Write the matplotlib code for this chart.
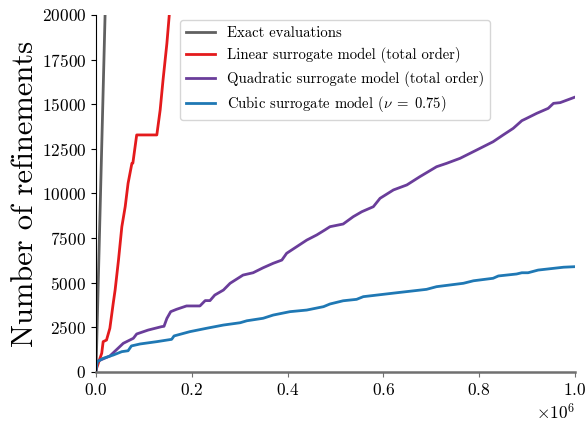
import numpy as np
import matplotlib
matplotlib.use("Agg")
import matplotlib.pyplot as plt

plt.rcParams['font.family'] = 'serif'
plt.rcParams['font.serif'] = ['cmr10']
plt.rcParams['mathtext.fontset'] = 'cm'
plt.rcParams['axes.formatter.use_mathtext'] = True

# evaluations (x) vs number of refinements (y)
exact_x = [0, 19000]
exact_y = [0, 20000]

linear_x = [0, 12000, 15000, 22000, 29000, 36000, 40000, 47000, 54000, 61000,
            67000, 75000, 77000, 85000, 127000, 134000, 140000, 148000, 153000]
linear_y = [110, 1050, 1700, 1790, 2450, 3850, 4600, 6270, 8140, 9260,
            10570, 11690, 11700, 13280, 13280, 14680, 16360, 18400, 20000]

quad_x = [0, 1500, 29000, 57000, 78000, 85000, 109000, 137000, 142000, 148000,
          156000, 168000, 189000, 217000, 228000, 238000, 248000, 266000, 280000,
          307000, 328000, 349000, 370000, 388000, 398000, 419000, 440000, 461000,
          478000, 488500, 516000, 537000, 555000, 579000, 593000, 621000, 649000,
          676000, 711000, 732000, 760000, 795000, 829000, 850000, 871000, 889000,
          899000, 920000, 944000, 955000, 969000, 1000000]
quad_y = [110, 580, 896, 1607, 1888, 2130, 2350, 2540, 2560, 3000,
          3380, 3510, 3700, 3700, 4000, 4000, 4310, 4590, 4970,
          5430, 5560, 5840, 6090, 6270, 6650, 7020, 7390, 7680,
          7960, 8140, 8290, 8700, 8980, 9260, 9730, 10200, 10480,
          10940, 11500, 11690, 11970, 12440, 12900, 13280, 13650, 14080,
          14210, 14490, 14770, 15050, 15090, 15400]

cubic_x = [0, 3000, 15000, 36000, 54000, 67000, 74000, 92000, 127000, 158000,
           163000, 196000, 231000, 266000, 301000, 315000, 349000, 370000, 405000,
           440000, 475000, 488500, 516000, 544000, 558000, 628000, 690000, 711000,
           767000, 788000, 829000, 840000, 878000, 889000, 902000, 923000, 976000,
           1000000]
cubic_y = [110, 580, 765, 950, 1140, 1190, 1460, 1570, 1700, 1830,
           2020, 2260, 2450, 2630, 2760, 2870, 3010, 3190, 3380,
           3470, 3660, 3810, 3990, 4070, 4220, 4440, 4630, 4780,
           4970, 5110, 5250, 5380, 5490, 5560, 5560, 5710, 5870,
           5900]

fig = plt.figure(figsize=(5.87, 4.21), dpi=100)
ax = fig.add_axes([0.1635, 0.1164, 0.8161, 0.848])

ax.plot(exact_x, exact_y, color='#606060', lw=2, label='Exact evaluations')
ax.plot(linear_x, linear_y, color='#e41a1c', lw=2, label='Linear surrogate model (total order)')
ax.plot(quad_x, quad_y, color='#6a3d9a', lw=2, label='Quadratic surrogate model (total order)')
ax.plot(cubic_x, cubic_y, color='#1f78b4', lw=2, label=r'Cubic surrogate model ($\nu\;=\;0.75$)')

ax.set_xlim(0, 1e6)
ax.set_ylim(0, 20000)
ax.set_yticks(np.arange(0, 20001, 2500))
ax.set_xticks(np.arange(0, 1.01e6, 0.2e6))
ax.ticklabel_format(axis='x', style='sci', scilimits=(0, 0))
ax.tick_params(labelsize=12.5)
ax.xaxis.get_offset_text().set_fontsize(12.5)

ax.spines['top'].set_visible(False)
ax.spines['right'].set_visible(False)
ax.spines['bottom'].set_color('#707070')
ax.spines['bottom'].set_linewidth(1.8)
ax.tick_params(axis='x', color='#707070')

ax.set_ylabel('Number of refinements', fontsize=22, labelpad=2)

ax.legend(loc='upper left', bbox_to_anchor=(0.175, 0.985), borderaxespad=0,
          fontsize=10.6)

fig.savefig('out.png', dpi=100)
